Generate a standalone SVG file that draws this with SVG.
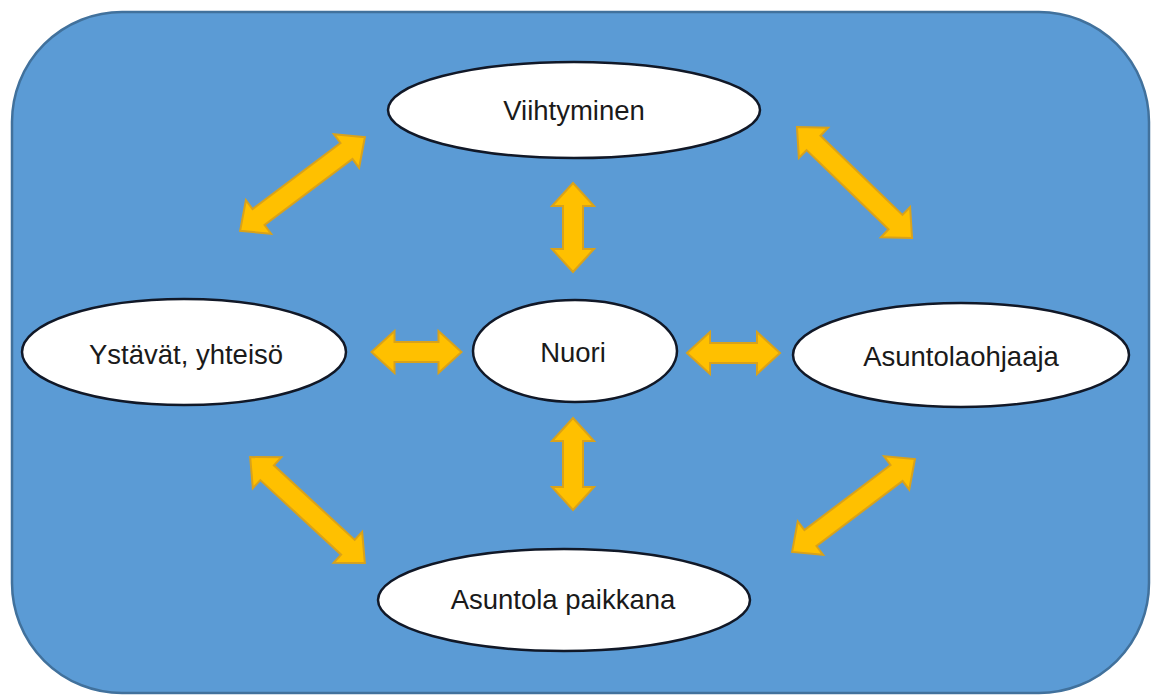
<svg xmlns="http://www.w3.org/2000/svg" width="1153" height="697" viewBox="0 0 1153 697">
  <defs>
    <style>
      .bg { fill: #5B9BD5; stroke: #41719C; stroke-width: 2.5; }
      .node { fill: #FFFFFF; stroke: #111827; stroke-width: 2.5; }
      .lbl { font-family: "Liberation Sans", Arial, sans-serif; font-size: 27.5px; fill: #1a1a1a; text-anchor: middle; }
      .arr { fill: #FFC000; stroke: #D9A21A; stroke-width: 2; stroke-linejoin: miter; }
    </style>
  </defs>
  <rect width="1153" height="697" fill="#FFFFFF"/>
  <rect class="bg" x="12" y="12" width="1137" height="681" rx="110" ry="110"/>

  <g id="connectors">
    <!-- path centered at origin, length L, shaft half 10, head half 21, head length 23 -->
    <path class="arr" transform="translate(302.5,184) rotate(-36.9)" d="M -78,0 L -55,-21 L -55,-10 L 55,-10 L 55,-21 L 78,0 L 55,21 L 55,10 L -55,10 L -55,21 Z"/>
    <path class="arr" transform="translate(854.5,182.5) rotate(44)" d="M -80,0 L -57,-21 L -57,-10 L 57,-10 L 57,-21 L 80,0 L 57,21 L 57,10 L -57,10 L -57,21 Z"/>
    <path class="arr" transform="translate(573,227.5) rotate(90)" d="M -44.5,0 L -21.5,-21 L -21.5,-10 L 21.5,-10 L 21.5,-21 L 44.5,0 L 21.5,21 L 21.5,10 L -21.5,10 L -21.5,21 Z"/>
    <path class="arr" transform="translate(416.5,352)" d="M -45,0 L -22,-21 L -22,-10 L 22,-10 L 22,-21 L 45,0 L 22,21 L 22,10 L -22,10 L -22,21 Z"/>
    <path class="arr" transform="translate(733.5,353)" d="M -46.5,0 L -23.5,-21 L -23.5,-10 L 23.5,-10 L 23.5,-21 L 46.5,0 L 23.5,21 L 23.5,10 L -23.5,10 L -23.5,21 Z"/>
    <path class="arr" transform="translate(573,464) rotate(90)" d="M -46,0 L -23,-21 L -23,-10 L 23,-10 L 23,-21 L 46,0 L 23,21 L 23,10 L -23,10 L -23,21 Z"/>
    <path class="arr" transform="translate(307.5,510) rotate(42.7)" d="M -78,0 L -55,-21 L -55,-10 L 55,-10 L 55,-21 L 78,0 L 55,21 L 55,10 L -55,10 L -55,21 Z"/>
    <path class="arr" transform="translate(853.5,505.5) rotate(-37.1)" d="M -77,0 L -54,-21 L -54,-10 L 54,-10 L 54,-21 L 77,0 L 54,21 L 54,10 L -54,10 L -54,21 Z"/>
  </g>

  <g id="node-viihtyminen">
    <ellipse class="node" cx="574" cy="110" rx="186" ry="48"/>
    <text class="lbl" x="574" y="120">Viihtyminen</text>
  </g>
  <g id="node-ystavat">
    <ellipse class="node" cx="184" cy="352" rx="162" ry="53"/>
    <text class="lbl" x="186" y="364">Ystävät, yhteisö</text>
  </g>
  <g id="node-nuori">
    <ellipse class="node" cx="575" cy="351" rx="102" ry="51"/>
    <text class="lbl" x="573" y="362">Nuori</text>
  </g>
  <g id="node-asuntolaohjaaja">
    <ellipse class="node" cx="961" cy="355" rx="168" ry="52"/>
    <text class="lbl" x="961" y="366">Asuntolaohjaaja</text>
  </g>
  <g id="node-asuntola-paikkana">
    <ellipse class="node" cx="564" cy="600" rx="186" ry="51"/>
    <text class="lbl" x="563" y="609">Asuntola paikkana</text>
  </g>
</svg>
